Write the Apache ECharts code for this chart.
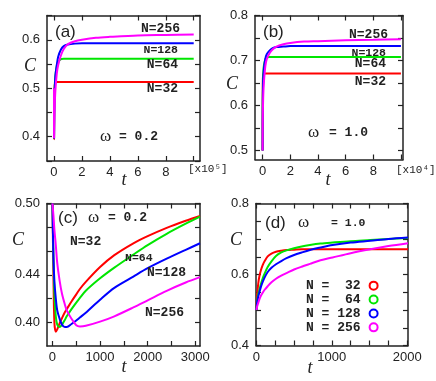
<!DOCTYPE html>
<html>
<head>
<meta charset="utf-8">
<script src="https://cdn.jsdelivr.net/npm/echarts@6.0.0/dist/echarts.min.js"></script>
<style>
  html, body { margin: 0; padding: 0; background: #fff; }
  #chart { width: 436px; height: 381px; }
</style>
</head>
<body>
<div id="chart"></div>
<script>
// series names / colours
const names = ['N =  32', 'N =  64', 'N = 128', 'N = 256']
const colors = ['#ff0000', '#00e600', '#0000ff', '#ff00ff']

// (a) omega = 0.2, t in units of 1e5
const tA = [0, 0.005, 0.02, 0.05, 0.1, 0.2, 0.3, 0.5, 0.7, 1, 1.5, 2, 3, 4, 6, 8, 10]
const cA32 = [0.5, 0.395, 0.474, 0.505, 0.512, 0.513, 0.513, 0.513, 0.513, 0.513, 0.513, 0.513, 0.513, 0.513, 0.513, 0.513, 0.513]
const cA64 = [0.5, 0.397, 0.466, 0.5, 0.526, 0.546, 0.554, 0.560, 0.561, 0.561, 0.561, 0.561, 0.561, 0.561, 0.561, 0.561, 0.561]
const cA128 = [0.5, 0.397, 0.446, 0.492, 0.525, 0.548, 0.565, 0.58, 0.587, 0.59, 0.592, 0.593, 0.593, 0.593, 0.593, 0.593, 0.593]
const cA256 = [0.5, 0.397, 0.42, 0.46, 0.495, 0.53, 0.548, 0.568, 0.581, 0.591, 0.597, 0.6, 0.604, 0.606, 0.609, 0.61, 0.611]

// (b) omega = 1.0, t in units of 1e4
const tB = [0, 0.005, 0.01, 0.02, 0.05, 0.1, 0.2, 0.3, 0.5, 0.7, 1, 1.5, 2, 3, 4, 6, 8, 10]
const cB32 = [0.5, 0.6, 0.635, 0.66, 0.669, 0.671, 0.671, 0.671, 0.671, 0.671, 0.671, 0.671, 0.671, 0.671, 0.671, 0.671, 0.671, 0.671]
const cB64 = [0.5, 0.565, 0.603, 0.64, 0.674, 0.69, 0.703, 0.707, 0.708, 0.708, 0.708, 0.708, 0.708, 0.708, 0.708, 0.708, 0.708, 0.708]
const cB128 = [0.5, 0.567, 0.595, 0.625, 0.662, 0.683, 0.704, 0.714, 0.722, 0.727, 0.73, 0.731, 0.732, 0.732, 0.732, 0.732, 0.732, 0.732]
const cB256 = [0.5, 0.538, 0.56, 0.585, 0.625, 0.654, 0.688, 0.703, 0.716, 0.724, 0.731, 0.736, 0.739, 0.742, 0.743, 0.745, 0.746, 0.747]

// (c) omega = 0.2, short times
const tC = [0, 20, 40, 70, 100, 150, 200, 260, 300, 400, 500, 576, 700, 1000, 1300, 1700, 2000, 2400, 2800, 3100]
const cC32 = [0.5, 0.44, 0.4, 0.392, 0.394, 0.399, 0.4035, 0.4085, 0.411, 0.4175, 0.4235, 0.428, 0.434, 0.4465, 0.4565, 0.4665, 0.4725, 0.4795, 0.4855, 0.4895]
const cC64 = [0.5, 0.455, 0.425, 0.405, 0.398, 0.396, 0.398, 0.402, 0.405, 0.411, 0.4165, 0.4205, 0.4265, 0.437, 0.446, 0.457, 0.465, 0.4745, 0.483, 0.489]
const cC128 = [0.5, 0.455, 0.435, 0.42, 0.41, 0.403, 0.398, 0.396, 0.396, 0.3985, 0.4015, 0.404, 0.408, 0.419, 0.429, 0.4385, 0.4455, 0.4535, 0.461, 0.4665]
const cC256 = [0.5, 0.49, 0.478, 0.465, 0.45, 0.435, 0.424, 0.415, 0.41, 0.403, 0.3975, 0.3965, 0.397, 0.4005, 0.405, 0.4125, 0.4185, 0.4265, 0.4335, 0.438]

// (d) omega = 1.0, short times
const tD = [0, 10, 25, 40, 60, 85, 110, 150, 200, 260, 330, 400, 500, 600, 710, 850, 1010, 1250, 1510, 1750, 2010]
const cD32 = [0.5, 0.54, 0.575, 0.595, 0.612, 0.627, 0.638, 0.651, 0.659, 0.664, 0.667, 0.669, 0.67, 0.671, 0.671, 0.671, 0.671, 0.671, 0.671, 0.671, 0.671]
const cD64 = [0.5, 0.525, 0.545, 0.557, 0.573, 0.59, 0.603, 0.621, 0.637, 0.652, 0.662, 0.668, 0.674, 0.679, 0.683, 0.687, 0.69, 0.694, 0.697, 0.7, 0.703]
const cD128 = [0.5, 0.522, 0.538, 0.55, 0.565, 0.58, 0.592, 0.607, 0.619, 0.629, 0.638, 0.646, 0.655, 0.662, 0.669, 0.676, 0.683, 0.69, 0.695, 0.7, 0.704]
const cD256 = [0.5, 0.51, 0.52, 0.53, 0.54, 0.549, 0.557, 0.567, 0.578, 0.588, 0.597, 0.604, 0.614, 0.622, 0.63, 0.64, 0.648, 0.66, 0.671, 0.68, 0.688]

// ticks and labels
const xTicksA = [0, 2, 4, 6, 8, 10]
const xLabelsA = [0, 2, 4, 6, 8]
const yTicksA = [0.35, 0.4, 0.45, 0.5, 0.55, 0.6, 0.65]
const yLabelsA = [0.4, 0.5, 0.6]
const yTicksB = [0.5, 0.55, 0.6, 0.65, 0.7, 0.75, 0.8]
const yLabelsB = [0.5, 0.6, 0.7, 0.8]
const xTicksC = [0, 500, 1000, 1500, 2000, 2500, 3000]
const xLabelsC = [0, 1000, 2000, 3000]
const yTicksC = [0.4, 0.42, 0.44, 0.46, 0.48, 0.5]
const yLabelsC = [0.4, 0.44, 0.5]
const xTicksD = [0, 250, 500, 750, 1000, 1250, 1500, 1750, 2000]
const xLabelsD = [0, 1000, 2000]
const yTicksD = [0.4, 0.45, 0.5, 0.55, 0.6, 0.65, 0.7, 0.75, 0.8]
const yLabelsD = [0.4, 0.6, 0.8]

const ink = '#222'
const tickFont = { fontFamily: 'Liberation Sans', fontSize: 13, color: ink }

function axisPair(kind, g, min, max, ticks, labels, fmt) {
  const pos = kind === 'x' ? ['bottom', 'top'] : ['left', 'right']
  return pos.map((p, i) => ({
    type: 'value',
    gridIndex: g,
    position: p,
    min: min,
    max: max,
    axisLine: { show: true, onZero: false, lineStyle: { color: ink, width: 1.5 } },
    axisTick: { show: true, inside: true, length: 5, customValues: ticks, lineStyle: { color: ink, width: 1.2 } },
    axisLabel: Object.assign({ show: i === 0, customValues: labels, margin: kind === 'x' ? 5 : 7, formatter: fmt, hideOverlap: false }, tickFont),
    splitLine: { show: false }
  }))
}

function lines(g, t, arrs) {
  return arrs.map((c, i) => ({
    type: 'line',
    name: names[i],
    xAxisIndex: g * 2,
    yAxisIndex: g * 2,
    data: t.map((x, k) => [x, c[k]]),
    showSymbol: false,
    smooth: 0.3,
    color: colors[i],
    lineStyle: { width: 2, color: colors[i] },
    emphasis: { disabled: true },
    z: 2 + i
  }))
}

const f1 = v => v.toFixed(1)
const f2 = v => v.toFixed(2)
const f0 = v => String(v)

function txt(text, x, y, font, align) {
  return { type: 'text', style: { text: text, x: x, y: y, font: font, fill: ink, textAlign: align || 'left', textVerticalAlign: 'middle' }, z: 100 }
}
const mono = 'bold 13px "Liberation Mono"'
const monoS = 'bold 11.5px "Liberation Mono"'
const serifI = 'italic 18px "Liberation Serif"'
const omega = '17px "Liberation Serif"'
const letter = '17px "Liberation Sans"'

const chart = echarts.init(document.getElementById('chart'))
chart.setOption({
  animation: false,
  grid: [
    { left: 47, top: 15.5, width: 153, height: 145.5 },
    { left: 255, top: 15.5, width: 148, height: 144 },
    { left: 47, top: 203.5, width: 153, height: 142.5 },
    { left: 256, top: 203.5, width: 152, height: 142 }
  ],
  xAxis: [].concat(
    axisPair('x', 0, -0.5, 10.45, xTicksA, xLabelsA, f0),
    axisPair('x', 1, -0.55, 10.15, xTicksA, xLabelsA, f0),
    axisPair('x', 2, -115, 3100, xTicksC, xLabelsC, f0),
    axisPair('x', 3, -5, 2010, xTicksD, xLabelsD, f0)
  ),
  yAxis: [].concat(
    axisPair('y', 0, 0.35, 0.65, yTicksA, yLabelsA, f1),
    axisPair('y', 1, 0.48, 0.8, yTicksB, yLabelsB, f1),
    axisPair('y', 2, 0.38, 0.5, yTicksC, yLabelsC, f2),
    axisPair('y', 3, 0.4, 0.8, yTicksD, yLabelsD, f1)
  ),
  legend: {
    data: names.map(n => ({ name: n, icon: 'emptyCircle' })),
    orient: 'vertical',
    align: 'right',
    left: 306,
    top: 278.7,
    itemWidth: 8,
    itemHeight: 8,
    itemGap: 0,
    padding: 0,
    selectedMode: false,
    itemStyle: { borderWidth: 1 },
    textStyle: { fontFamily: 'Liberation Mono', fontWeight: 'bold', fontSize: 13, lineHeight: 13.9, color: ink, padding: [0, 4, 0, 0] }
  },
  series: [].concat(
    lines(0, tA, [cA32, cA64, cA128, cA256]),
    lines(1, tB, [cB32, cB64, cB128, cB256]),
    lines(2, tC, [cC32, cC64, cC128, cC256]),
    lines(3, tD, [cD32, cD64, cD128, cD256])
  ),
  graphic: [
    // panel (a)
    txt('(a)', 55, 32, letter),
    txt('N=256', 180, 29, mono, 'right'),
    txt('N=128', 178, 50, monoS, 'right'),
    txt('N=64', 178, 65, mono, 'right'),
    txt('N=32', 178, 89, mono, 'right'),
    txt('ω', 100, 137, omega),
    txt('= 0.2', 119, 137, mono),
    txt('C', 30, 66, serifI, 'center'),
    txt('t', 124, 180, serifI, 'center'),
    txt('[x10⁵]', 188, 169, '11px "Liberation Mono"'),
    // panel (b)
    txt('(b)', 263, 32, letter),
    txt('N=256', 388, 35, mono, 'right'),
    txt('N=128', 386, 53, monoS, 'right'),
    txt('N=64', 386, 64, mono, 'right'),
    txt('N=32', 386, 82, mono, 'right'),
    txt('ω', 308, 133, omega),
    txt('= 1.0', 329, 133, mono),
    txt('C', 232, 84, serifI, 'center'),
    txt('t', 328, 180, serifI, 'center'),
    txt('[x10⁴]', 396, 170, '11px "Liberation Mono"'),
    // panel (c)
    txt('(c)', 58, 218, letter),
    txt('ω', 88, 218, omega),
    txt('= 0.2', 108, 218, mono),
    txt('N=32', 70, 242, mono),
    txt('N=64', 125, 258, monoS),
    txt('N=128', 147, 273, mono),
    txt('N=256', 145, 313, mono),
    txt('C', 18, 240, serifI, 'center'),
    txt('t', 124, 367, serifI, 'center'),
    // panel (d)
    txt('(d)', 265, 223, letter),
    txt('ω', 298, 223, omega),
    txt('= 1.0', 331, 223, monoS),
    txt('C', 236, 240, serifI, 'center'),
    txt('t', 310, 368, serifI, 'center')
  ]
})
</script>
</body>
</html>
